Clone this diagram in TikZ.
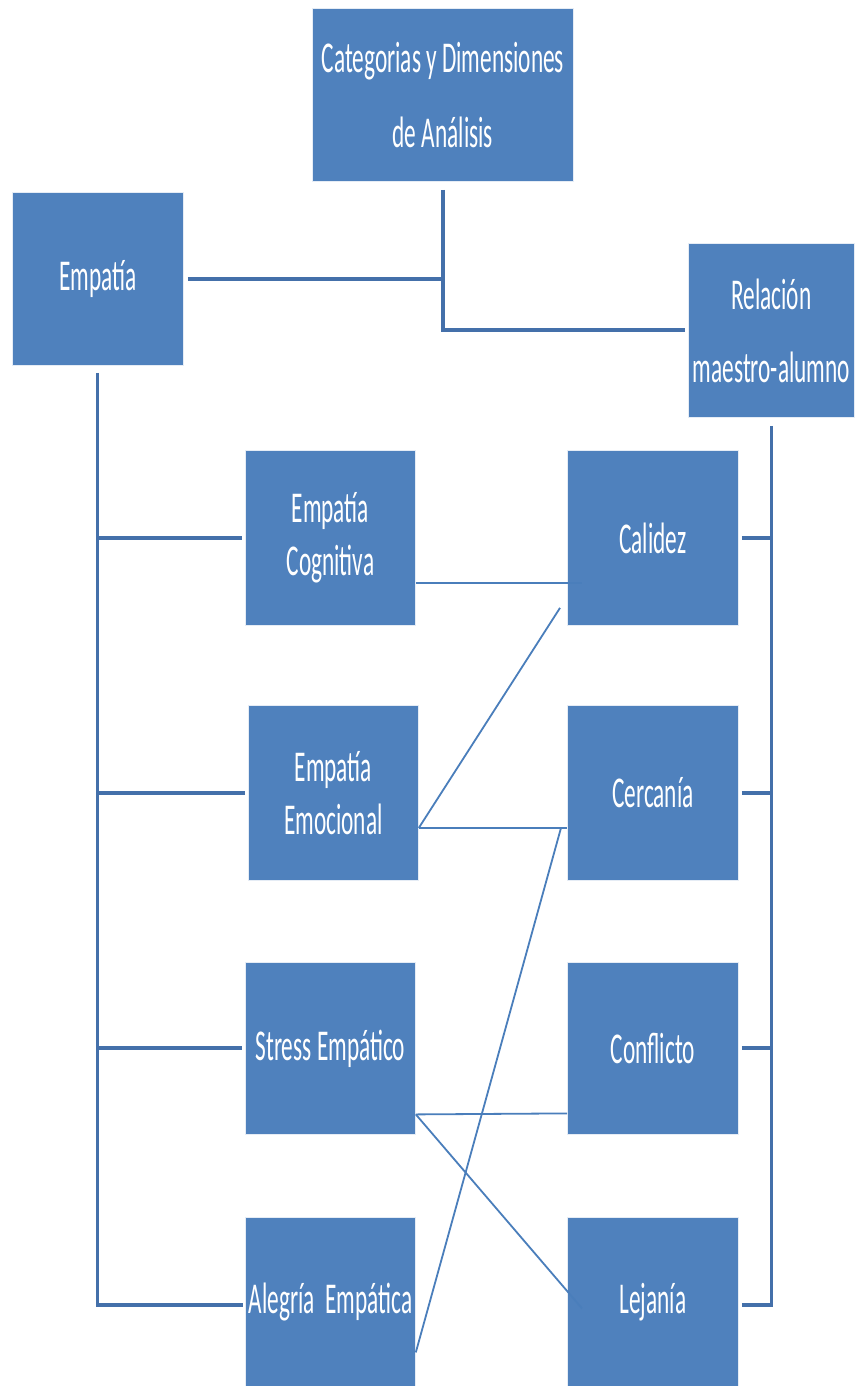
\documentclass[tikz,border=0pt]{standalone}
\usepackage{fontspec}
\newfontfamily\boxfont[FakeStretch=0.53]{Carlito}
\definecolor{boxblue}{HTML}{4F81BD}
\definecolor{lineblue}{HTML}{4470AA}
\definecolor{thinblue}{HTML}{4A7EBB}
\begin{document}
\begin{tikzpicture}[x=1pt,y=-1pt,
  box/.style={rectangle, fill=boxblue, draw=white!85!boxblue, line width=0.8pt, text=white,
    inner sep=0pt, anchor=north west, align=center, minimum width=171pt, minimum height=174pt,
    font=\boxfont\fontsize{44}{53}\selectfont},
  wide/.style={font=\boxfont\fontsize{44}{75}\selectfont},
  thickline/.style={draw=lineblue, line width=4pt},
  vline/.style={draw=lineblue, line width=3pt},
  thinline/.style={draw=thinblue, line width=1.8pt}]
\useasboundingbox[fill=white] (0,0) rectangle (854,1386);

% boxes
\node[box, wide, minimum width=261pt, minimum height=173pt] (top) at (312,8) {Categorias y Dimensiones\\de Análisis};
\node[box, minimum width=171pt, minimum height=173pt] (emp) at (12,192) {Empatía};
\node[box, wide, minimum width=166pt, minimum height=174pt, font=\boxfont\fontsize{44}{73}\selectfont] (rel) at (688,243) {Relación\\maestro-alumno};

\node[box, minimum width=170pt, minimum height=175pt] (cog) at (245,450) {Empatía\\Cognitiva};
\node[box, minimum width=170pt, minimum height=175pt] (emo) at (248,705) {Empatía\\Emocional};
\node[box, minimum width=170pt, minimum height=172pt] (str) at (245,962) {Stress Empático};
\node[box, minimum width=170pt, minimum height=170pt] (aleg) at (245,1217) {Alegría~~Empática};

\node[box, minimum width=171pt, minimum height=175pt] (cal) at (567,450) {Calidez};
\node[box, minimum width=171pt, minimum height=175pt] (cer) at (567,705) {Cercanía};
\node[box, minimum width=171pt, minimum height=172pt] (con) at (567,962) {Conflicto};
\node[box, minimum width=171pt, minimum height=170pt] (lej) at (567,1217) {Lejanía};

% top connectors
\draw[thickline] ([yshift=-8pt]top.south) |- ([xshift=-3pt]rel.west);
\draw[thickline] ([xshift=4pt]emp.east) -- (emp.east -| top.south);

% left tree
\draw[vline] ([yshift=-7pt]emp.south) |- ([shift={(-2pt,-3pt)}]aleg.west);
\draw[thickline] (emp.south |- cog.west) -- ([xshift=-3pt]cog.west);
\draw[thickline] (emp.south |- emo.west) -- ([xshift=-3pt]emo.west);
\draw[thickline] (emp.south |- str.west) -- ([xshift=-3pt]str.west);
\draw[thickline] ([yshift=-3pt]emp.south |- aleg.west) -- ([shift={(-2pt,-3pt)}]aleg.west);

% right tree
\draw[vline] ([yshift=-8pt]rel.south) |- ([shift={(3pt,-3pt)}]lej.east);
\draw[thickline] ([xshift=3pt]cal.east) -- (cal.east -| rel.south);
\draw[thickline] ([xshift=3pt]cer.east) -- (cer.east -| rel.south);
\draw[thickline] ([xshift=3pt]con.east) -- (con.east -| rel.south);
\draw[thickline] ([shift={(3pt,-3pt)}]lej.east) -- ([yshift=-3pt]lej.east -| rel.south);

% thin cross connectors
\draw[thinline] ([yshift=-45pt]cog.east) -- ([shift={(15pt,-45pt)}]cal.west);
\draw[thinline] ([shift={(-7pt,-70pt)}]cal.west) -- ([yshift=-35pt]emo.east);
\draw[thinline] ([yshift=-35pt]emo.east) -- ([yshift=-35pt]cer.west);
\draw[thinline] ([shift={(-6pt,-35pt)}]cer.west) -- ([yshift=-50pt]aleg.east);
\draw[thinline] ([yshift=-66pt]str.east) -- ([yshift=-65pt]con.west);
\draw[thinline] ([yshift=-66pt]str.east) -- ([shift={(15pt,-6pt)}]lej.west);
\end{tikzpicture}
\end{document}
